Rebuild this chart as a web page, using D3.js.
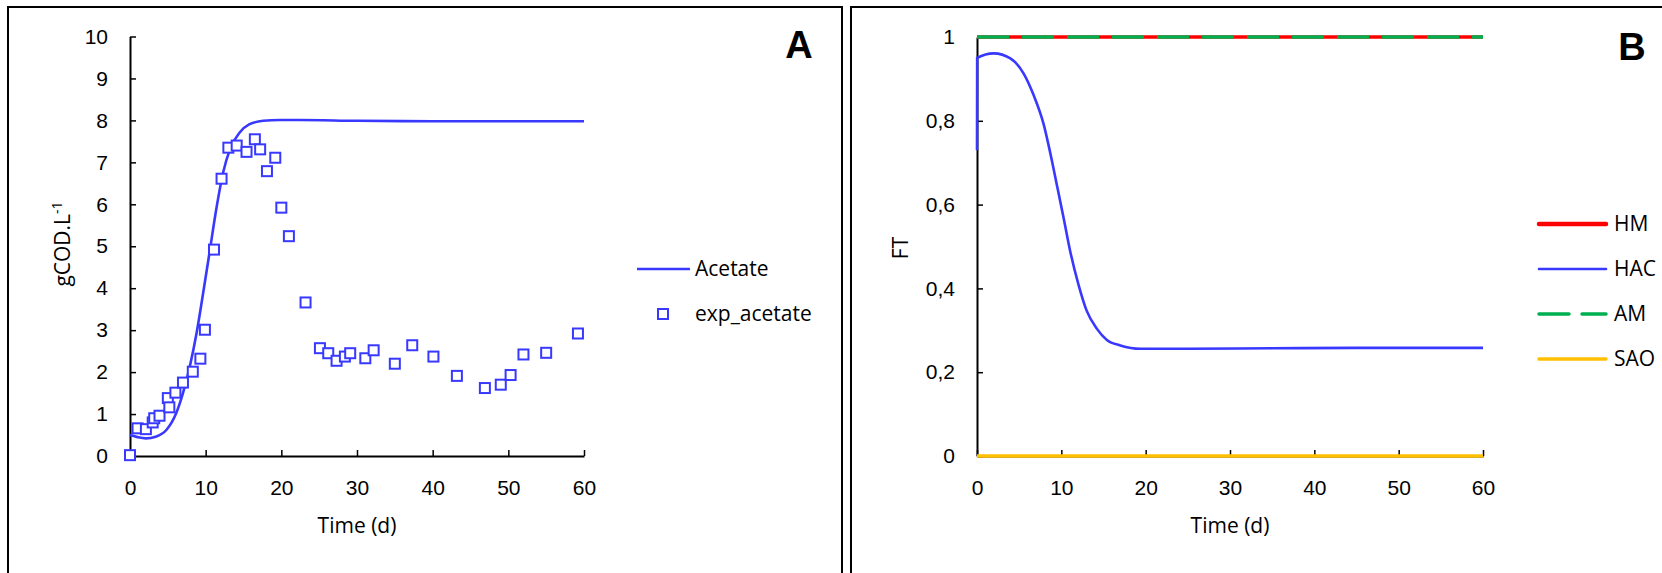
<!DOCTYPE html>
<html>
<head>
<meta charset="utf-8">
<script src="https://cdn.jsdelivr.net/npm/d3@7"></script>
<style>
  body { margin: 0; background: #fff; }
  svg { display: block; font-family: "Open Sans", sans-serif; }
  .axis text { font-size: 21px; fill: #000; }
  .axis path, .axis line { stroke: #000; }
</style>
</head>
<body>
<div id="chart"></div>
<script>
// Panel A : acetate model and experimental points
const acetateT = [0, 1, 2.1, 3.4, 4.8, 6.1, 7, 7.9, 8.8, 9.6, 10.5, 11.4, 12.3, 13.2, 14.5, 15.8, 17.6, 19.8, 22.4, 30, 40, 50, 60];
const acetateV = [0.5, 0.45, 0.42, 0.46, 0.62, 1.02, 1.5, 2.13, 2.93, 3.81, 4.84, 5.88, 6.75, 7.31, 7.71, 7.91, 7.99, 8.01, 8.01, 7.99, 7.98, 7.98, 7.98];

const expT = [0, 1, 2.1, 3, 3.2, 3.9, 5, 5.2, 6, 7, 8.3, 9.3, 9.9, 11.1, 12.1, 13, 14.1, 15.4, 16.5, 17.2, 18.1, 19.2, 20, 21,
              23.2, 25.1, 26.2, 27.3, 28.4, 29.1, 31.1, 32.2, 35, 37.3, 40.1, 43.2, 46.9, 49, 50.3, 52, 55, 59.2];
const expV = [0.02, 0.66, 0.64, 0.8, 0.9, 0.96, 1.38, 1.16, 1.51, 1.75, 2.01, 2.32, 3.01, 4.92, 6.61, 7.35, 7.4, 7.25, 7.55, 7.31, 6.79, 7.11, 5.92, 5.24,
              3.66, 2.57, 2.45, 2.27, 2.37, 2.45, 2.33, 2.52, 2.2, 2.64, 2.37, 1.91, 1.62, 1.7, 1.93, 2.42, 2.46, 2.92];

// Panel B : FT of each population
const ftT = [0, 0.02, 2, 3.95, 5.5, 6.7, 7.9, 8.7, 9.5, 10.3, 11.07, 12.05, 13, 14.2, 15.4, 17, 19.4, 25, 35, 45, 60];
const hacV = [0.73, 0.95, 0.961, 0.949, 0.914, 0.862, 0.792, 0.722, 0.644, 0.565, 0.487, 0.408, 0.347, 0.304, 0.277, 0.264, 0.256, 0.256, 0.257, 0.258, 0.258];
const flatT = [0, 60];
const hmV = [1, 1];
const amV = [1, 1];
const saoV = [0, 0];

const timeTicks = [0, 10, 20, 30, 40, 50, 60];
const codTicks = [0, 1, 2, 3, 4, 5, 6, 7, 8, 9, 10];
const ftTicks = [0, 0.2, 0.4, 0.6, 0.8, 1];

const BLUE = "#3838ff";

const svg = d3.select("#chart").append("svg")
    .attr("width", 1662)
    .attr("height", 573);

// panel frames
svg.append("rect").attr("x", 8).attr("y", 7).attr("width", 834).attr("height", 600)
    .attr("fill", "none").attr("stroke", "#000").attr("stroke-width", 2);
svg.append("rect").attr("x", 851).attr("y", 7).attr("width", 820).attr("height", 600)
    .attr("fill", "none").attr("stroke", "#000").attr("stroke-width", 2);

function drawAxes(x, y, yTicks, yFmt, yTitle, titleX, titleY) {
    svg.append("g")
        .attr("class", "axis")
        .attr("transform", `translate(0, ${y.range()[0]})`)
        .call(d3.axisBottom(x).tickValues(timeTicks).tickSizeInner(-6).tickSizeOuter(0).tickPadding(24))
        .call(g => g.select(".domain").attr("stroke-width", 2))
        .call(g => g.selectAll(".tick line").attr("stroke-width", 1.5));

    svg.append("g")
        .attr("class", "axis")
        .attr("transform", `translate(${x.range()[0]}, 0)`)
        .call(d3.axisLeft(y).tickValues(yTicks).tickFormat(yFmt).tickSizeInner(-6).tickSizeOuter(0).tickPadding(22))
        .call(g => g.select(".domain").attr("stroke-width", 2))
        .call(g => g.selectAll(".tick line").attr("stroke-width", 1.5));

    svg.append("text")
        .attr("x", (x.range()[0] + x.range()[1]) / 2)
        .attr("y", 526)
        .attr("dy", "0.35em")
        .attr("text-anchor", "middle")
        .style("font-size", "21px")
        .text("Time (d)");

    svg.append("text")
        .attr("transform", `translate(${titleX}, ${titleY}) rotate(-90)`)
        .attr("dy", "0.35em")
        .attr("text-anchor", "middle")
        .style("font-size", "21px")
        .call(yTitle);
}

//<------------------------------ PANEL A ------------------------------>
let xA = d3.scaleLinear().domain([0, 60]).range([130, 584]);
let yA = d3.scaleLinear().domain([0, 10]).range([456, 36.5]);

drawAxes(xA, yA, codTicks, d3.format("d"), function(t) {
    t.append("tspan").text("gCOD.L");
    t.append("tspan").attr("dy", "-0.6em").style("font-size", "14px").text("-1");
}, 63, 244);

let lineA = d3.line()
    .x(function(d, i) { return xA(acetateT[i]); })
    .y(function(d) { return yA(d); })
    .curve(d3.curveMonotoneX);

svg.append("path")
    .attr("d", lineA(acetateV))
    .attr("fill", "none")
    .attr("stroke", BLUE)
    .attr("stroke-width", 2.6);

svg.append("g").selectAll("rect")
    .data(expV)
    .enter()
    .append("rect")
    .attr("x", function(d, i) { return xA(expT[i]) - 5; })
    .attr("y", function(d) { return yA(d) - 5; })
    .attr("width", 10)
    .attr("height", 10)
    .attr("fill", "#fff")
    .attr("stroke", BLUE)
    .attr("stroke-width", 2);

// legend A
svg.append("line").attr("x1", 637).attr("x2", 690).attr("y1", 269).attr("y2", 269)
    .attr("stroke", BLUE).attr("stroke-width", 2.6);
svg.append("rect").attr("x", 658).attr("y", 309).attr("width", 10).attr("height", 10)
    .attr("fill", "#fff").attr("stroke", BLUE).attr("stroke-width", 2);
svg.append("text").attr("x", 695).attr("y", 269).attr("dy", "0.35em").style("font-size", "21px").text("Acetate");
svg.append("text").attr("x", 695).attr("y", 314).attr("dy", "0.35em").style("font-size", "21px").text("exp_acetate");

svg.append("text").attr("x", 799).attr("y", 44).attr("dy", "0.36em")
    .attr("text-anchor", "middle")
    .style("font-family", "'Liberation Sans', Arial, sans-serif")
    .style("font-weight", "bold").style("font-size", "38px").text("A");

//<------------------------------ PANEL B ------------------------------>
let xB = d3.scaleLinear().domain([0, 60]).range([977, 1483]);
let yB = d3.scaleLinear().domain([0, 1]).range([456, 37]);

drawAxes(xB, yB, ftTicks, function(d) { return String(d).replace(".", ","); }, function(t) {
    t.text("FT");
}, 901, 248);

function lineB(times) {
    return d3.line()
        .x(function(d, i) { return xB(times[i]); })
        .y(function(d) { return yB(d); })
        .curve(d3.curveMonotoneX);
}

const seriesB = [
    {name: "HM",  values: hmV,  times: flatT, color: "#ff0000", width: 3.5, dash: null, lw: 4.5},
    {name: "HAC", values: hacV, times: ftT,   color: BLUE,      width: 2.6, dash: null, lw: 2.6},
    {name: "AM",  values: amV,  times: flatT, color: "#00b050", width: 3.5, dash: "32,13", lw: 3.5},
    {name: "SAO", values: saoV, times: flatT, color: "#ffc000", width: 3.5, dash: null, lw: 3.5}
];

// drawing order: HAC, SAO, HM, AM on top
["HAC", "SAO", "HM", "AM"].forEach(function(n) {
    let s = seriesB.find(function(d) { return d.name == n; });
    svg.append("path")
        .attr("d", lineB(s.times)(s.values))
        .attr("fill", "none")
        .attr("stroke", s.color)
        .attr("stroke-width", s.width)
        .attr("stroke-dasharray", s.dash);
});

let legB = svg.append("g").selectAll("g")
    .data(seriesB)
    .enter()
    .append("g")
    .attr("transform", function(d, i) { return `translate(0, ${224 + i * 45})`; });

legB.append("line")
    .attr("x1", 1539).attr("x2", 1606)
    .attr("stroke", function(d) { return d.color; })
    .attr("stroke-width", function(d) { return d.lw; })
    .attr("stroke-linecap", "round")
    .attr("stroke-dasharray", function(d) { return d.dash ? "30,13" : null; });

legB.append("text")
    .attr("x", 1614)
    .attr("dy", "0.35em")
    .style("font-size", "21px")
    .text(function(d) { return d.name; });

svg.append("text").attr("x", 1632).attr("y", 46).attr("dy", "0.36em")
    .attr("text-anchor", "middle")
    .style("font-family", "'Liberation Sans', Arial, sans-serif")
    .style("font-weight", "bold").style("font-size", "38px").text("B");
</script>
</body>
</html>
